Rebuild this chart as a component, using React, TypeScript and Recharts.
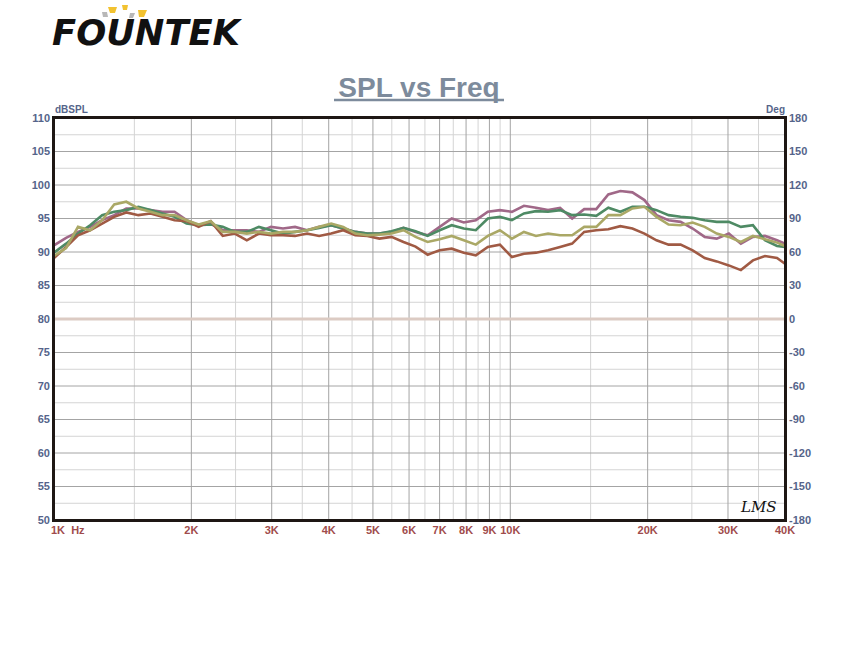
import { LineChart, Line, XAxis, YAxis, CartesianGrid } from "recharts";

// frequency points (Hz), roughly 1/17 octave apart
const freqs = [
  1000, 1063, 1129, 1200, 1275, 1355, 1440, 1531, 1627, 1729, 1837, 1952, 2075, 2205, 2343, 2490,
  2646, 2812, 2988, 3176, 3375, 3587, 3811, 4050, 4304, 4574, 4861, 5166, 5490, 5834, 6200,
  6589, 7002, 7441, 7908, 8403, 8930, 9490, 10081, 10713, 11385, 12099, 12857, 13664, 14521, 15431,
  16399, 17427, 18520, 19681, 20915, 22227, 23620, 25101, 26675, 28348, 30125, 32014, 34021, 36154,
  38421, 40000,
];

const splPurple = [
  91.0, 92.1, 93.0, 93.75, 94.75, 95.5, 96.5, 96.5, 96.25, 96.0, 96.0, 94.75, 94.0, 94.25, 93.25, 93.25,
  93.25, 93.0, 93.75, 93.5, 93.75, 93.25, 93.75, 94.0, 93.5, 93.0, 92.75, 92.75, 93.0, 93.6, 93.0,
  92.5, 93.75, 95.0, 94.4, 94.75, 96.0, 96.25, 96.0, 96.9, 96.6, 96.25, 96.6, 95.0, 96.4, 96.4,
  98.6, 99.1, 98.9, 97.75, 95.5, 94.75, 94.5, 93.5, 92.25, 92.0, 92.75, 91.25, 92.25, 92.4,
  91.75, 91.25,
];

const splGreen = [
  89.9, 91.25, 92.75, 94.0, 95.5, 96.0, 96.25, 96.75, 96.25, 95.75, 95.25, 94.25, 94.0, 94.1, 93.75, 93.0,
  93.0, 93.75, 93.25, 92.75, 93.0, 93.25, 93.6, 94.0, 93.5, 93.0, 92.75, 92.75, 93.1, 93.6, 93.1,
  92.4, 93.25, 94.0, 93.5, 93.25, 95.0, 95.25, 94.75, 95.75, 96.1, 96.0, 96.25, 95.5, 95.6, 95.4,
  96.6, 96.0, 96.75, 96.75, 96.25, 95.5, 95.25, 95.1, 94.75, 94.5, 94.5, 93.75, 94.0, 91.75,
  90.9, 90.75,
];

const splOlive = [
  89.4, 90.6, 93.75, 93.25, 94.75, 97.1, 97.5, 96.5, 96.0, 95.5, 95.5, 94.75, 94.1, 94.6, 93.0, 93.0,
  92.75, 93.0, 92.75, 93.0, 93.0, 93.25, 93.75, 94.25, 93.75, 92.75, 92.5, 92.6, 92.75, 93.25, 92.25,
  91.5, 91.9, 92.4, 91.75, 91.1, 92.4, 93.25, 92.0, 93.0, 92.4, 92.75, 92.5, 92.5, 93.75, 93.75,
  95.5, 95.5, 96.5, 96.75, 95.25, 94.1, 94.0, 94.4, 93.75, 92.75, 92.25, 91.5, 92.4, 91.9,
  91.4, 90.9,
];

const splBrown = [
  89.1, 90.75, 92.5, 93.25, 94.25, 95.25, 95.9, 95.5, 95.75, 95.25, 94.75, 94.6, 93.75, 94.6, 92.4, 92.75,
  91.75, 92.75, 92.5, 92.5, 92.4, 92.75, 92.4, 92.75, 93.25, 92.5, 92.4, 92.0, 92.25, 91.5, 90.8,
  89.6, 90.25, 90.5, 89.9, 89.5, 90.75, 91.1, 89.25, 89.75, 89.9, 90.25, 90.75, 91.25, 93.0, 93.25,
  93.4, 93.85, 93.5, 92.75, 91.75, 91.1, 91.1, 90.25, 89.1, 88.6, 88.0, 87.3, 88.75, 89.4,
  89.1, 88.25,
];

// phase trace: flat at 0 deg from 1K to 40K
const phaseFreqs = [1000, 40000];
const phaseDeg = [0, 0];

const freqTicks = [1000, 2000, 3000, 4000, 5000, 6000, 7000, 8000, 9000, 10000, 20000, 30000, 40000];
const freqLabels = ["1K\u00a0\u00a0Hz", "2K", "3K", "4K", "5K", "6K", "7K", "8K", "9K", "10K", "20K", "30K", "40K"];
const freqMinor = [1500, 2500, 3500, 4500, 5500, 6500, 7500, 8500, 9500, 15000, 25000, 35000];
const splTicks = [50, 55, 60, 65, 70, 75, 80, 85, 90, 95, 100, 105, 110];
const splMinor = [52.5, 57.5, 62.5, 67.5, 72.5, 77.5, 82.5, 87.5, 92.5, 97.5, 102.5, 107.5];
const degTicks = [-180, -150, -120, -90, -60, -30, 0, 30, 60, 90, 120, 150, 180];

const rows = freqs.map((f, i) => ({
  freq: f,
  purple: splPurple[i],
  green: splGreen[i],
  olive: splOlive[i],
  brown: splBrown[i],
}));

const phaseRows = phaseFreqs.map((f, i) => ({ freq: f, phase: phaseDeg[i] }));

const FONT = "Arial, 'Liberation Sans', sans-serif";
const AXIS_BLUE = "#55648a";
const AXIS_RED = "#a04c4c";

function FreqTick(props: any) {
  const { x, y, payload } = props;
  const idx = freqTicks.indexOf(payload.value);
  const first = idx === 0;
  return (
    <text
      x={first ? x - 3 : x}
      y={y}
      dy="0.71em"
      textAnchor={first ? "start" : "middle"}
      fill={AXIS_RED}
      fontSize={11}
      fontWeight="bold"
      fontFamily={FONT}
    >
      {freqLabels[idx]}
    </text>
  );
}

export default function App() {
  const tickStyle = { fill: AXIS_BLUE, fontSize: 11, fontWeight: "bold", fontFamily: FONT };
  return (
    <div style={{ position: "absolute", left: 0, top: 0, width: 854, height: 650, background: "#fff", fontFamily: FONT }}>
      <LineChart
        width={854}
        height={560}
        margin={{ top: 118, right: 25, left: 10, bottom: 10 }}
        style={{ position: "absolute", left: 0, top: 0 }}
      >
        <CartesianGrid
          stroke="#d4d4d4"
          strokeWidth={1}
          horizontalValues={splMinor}
          verticalValues={freqMinor}
        />
        <CartesianGrid
          stroke="#a4a4a4"
          strokeWidth={1}
          horizontalValues={splTicks}
          verticalValues={freqTicks}
        />
        <XAxis
          dataKey="freq"
          type="number"
          scale="log"
          domain={[1000, 40000]}
          allowDataOverflow
          ticks={freqTicks}
          interval={0}
          tick={<FreqTick />}
          tickLine={false}
          axisLine={false}
          tickSize={4}
          tickMargin={2}
          height={30}
        />
        <YAxis
          type="number"
          domain={[50, 110]}
          ticks={splTicks}
          interval={0}
          tick={tickStyle}
          tickLine={false}
          axisLine={false}
          tickSize={2}
          tickMargin={2}
          width={44}
          allowDataOverflow
        />
        <YAxis
          yAxisId="deg"
          orientation="right"
          type="number"
          domain={[-180, 180]}
          ticks={degTicks}
          interval={0}
          tick={tickStyle}
          tickLine={false}
          axisLine={false}
          tickSize={2}
          tickMargin={2}
          width={44}
          allowDataOverflow
        />
        <Line
          data={phaseRows}
          yAxisId="deg"
          dataKey="phase"
          stroke="#dccbc3"
          strokeWidth={3}
          dot={false}
          isAnimationActive={false}
        />
        <Line data={rows} dataKey="purple" stroke="#a06888" strokeWidth={2.6} dot={false} isAnimationActive={false} />
        <Line data={rows} dataKey="green" stroke="#4e8a64" strokeWidth={2.6} dot={false} isAnimationActive={false} />
        <Line data={rows} dataKey="brown" stroke="#a05a44" strokeWidth={2.6} dot={false} isAnimationActive={false} />
        <Line data={rows} dataKey="olive" stroke="#aaa866" strokeWidth={2.6} dot={false} isAnimationActive={false} />
      </LineChart>

      {/* frame around the plot */}
      <div
        style={{
          position: "absolute",
          left: 52,
          top: 116,
          width: 735,
          height: 406,
          boxSizing: "border-box",
          border: "3px solid #1e1714",
          pointerEvents: "none",
        }}
      />

      <svg width={854} height={560} style={{ position: "absolute", left: 0, top: 0, pointerEvents: "none" }}>
        {/* logo */}
        <polygon points="102,12 107,12 108,17 103,17" fill="#b8b8b8" />
        <polygon points="108,7 117,7 115,13 110,13" fill="#f2c230" />
        <polygon points="122,5 128,5 127,10 123,10" fill="#f2c230" />
        <polygon points="130,13 135,13 133,18 129,18" fill="#b8b8b8" />
        <polygon points="138,10 147,10 144,17 139,17" fill="#f2c230" />
        <text
          x={52}
          y={45}
          fontFamily="'DejaVu Sans', sans-serif"
          fontSize={36}
          fontWeight="bold"
          fontStyle="italic"
          fill="#111"
          textLength={188}
          lengthAdjust="spacingAndGlyphs"
        >
          FOUNTEK
        </text>

        {/* title */}
        <text x={419} y={97} textAnchor="middle" fontFamily={FONT} fontSize={28} fontWeight="bold" fill="#7d8b9c">
          SPL vs Freq
        </text>
        <line x1={334} y1={100} x2={504} y2={100} stroke="#7d8b9c" strokeWidth={2.5} />

        {/* axis units */}
        <text x={55} y={113} fontFamily={FONT} fontSize={10} fontWeight="bold" fill={AXIS_BLUE}>
          dBSPL
        </text>
        <text x={785} y={113} textAnchor="end" fontFamily={FONT} fontSize={10} fontWeight="bold" fill={AXIS_BLUE}>
          Deg
        </text>

        {/* signature */}
        <text x={741} y={512} fontFamily="'DejaVu Serif', serif" fontStyle="italic" fontSize={15} fill="#111">
          LMS
        </text>
      </svg>
    </div>
  );
}
